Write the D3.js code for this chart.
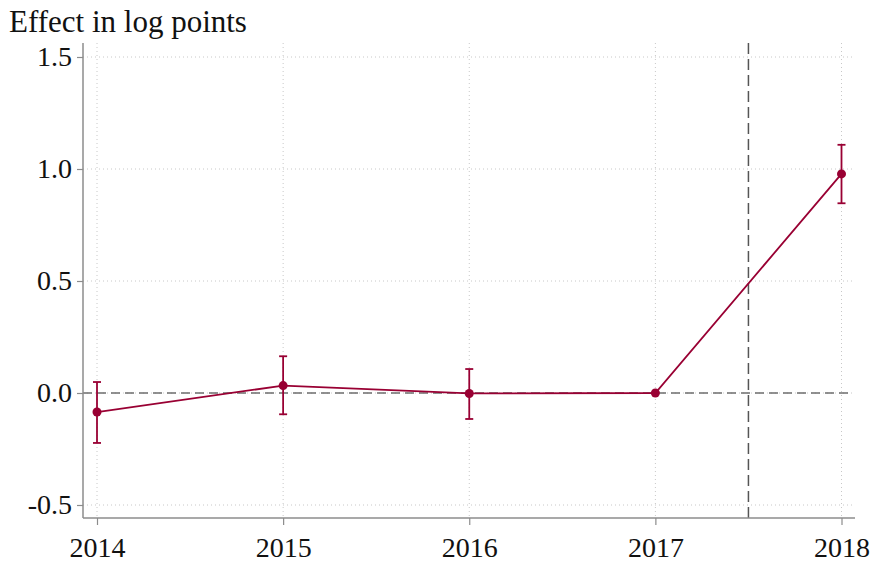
<!DOCTYPE html>
<html><head><meta charset="utf-8">
<script src="https://cdn.jsdelivr.net/npm/d3@7"></script>
<style>body{margin:0;background:#fff}svg{display:block}</style>
</head><body>
<svg id="c" width="873" height="570"></svg>
<script>
const years = [2014, 2015, 2016, 2017, 2018];
const estimates = [-0.085, 0.033, -0.002, 0.0, 0.978];
const ciLow = [-0.223, -0.095, -0.116, null, 0.847];
const ciHigh = [0.049, 0.164, 0.107, null, 1.108];
const yTicks = [-0.5, 0.0, 0.5, 1.0, 1.5];
const yTickLabels = ["-0.5", "0.0", "0.5", "1.0", "1.5"];
const xTickLabels = ["2014", "2015", "2016", "2017", "2018"];
const treatLine = 2017.5;
const title = "Effect in log points";

const svg = d3.select("#c");
const L = 83, R = 855, T = 43, B = 518;
const x = d3.scaleLinear().domain([2014, 2018]).range([97, 841.5]);
const y = d3.scaleLinear().domain([-0.5, 1.5]).range([505, 57]);
const col = "#990033";
const font = "'Liberation Serif', 'Times New Roman', serif";

// gridlines
svg.append("g").selectAll("line").data(yTicks).join("line")
  .attr("x1", L).attr("x2", R - 2).attr("y1", d => y(d)).attr("y2", d => y(d))
  .attr("stroke", "#c8c8c8").attr("stroke-width", 1).attr("stroke-dasharray", "1,3");
svg.append("g").selectAll("line").data(years).join("line")
  .attr("x1", d => x(d)).attr("x2", d => x(d)).attr("y1", T).attr("y2", B)
  .attr("stroke", "#c8c8c8").attr("stroke-width", 1).attr("stroke-dasharray", "1,3");

// zero line
svg.append("line").attr("x1", L).attr("x2", R - 2).attr("y1", y(0)).attr("y2", y(0))
  .attr("stroke", "#6e6e6e").attr("stroke-width", 1.5).attr("stroke-dasharray", "9,5");
// treatment line
svg.append("line").attr("x1", x(treatLine)).attr("x2", x(treatLine)).attr("y1", T).attr("y2", B)
  .attr("stroke", "#555").attr("stroke-width", 1.5).attr("stroke-dasharray", "11,5");

// axes
const yAxis = d3.axisLeft(y).tickValues(yTicks).tickFormat((d, i) => yTickLabels[i]).tickSize(6).tickPadding(5);
const gy = svg.append("g").attr("transform", `translate(${L},0)`).call(yAxis);
gy.select(".domain").remove();
gy.append("line").attr("x1", 0).attr("x2", 0).attr("y1", T).attr("y2", B).attr("stroke", "#8c8c8c").attr("stroke-width", 1.5);
gy.selectAll(".tick line").attr("stroke", "#8c8c8c").attr("stroke-width", 1.2);
gy.selectAll(".tick text").attr("font-family", font).attr("font-size", 28).attr("fill", "#111");

const xAxis = d3.axisBottom(x).tickValues(years).tickFormat((d, i) => xTickLabels[i]).tickSize(7).tickPadding(12);
const gx = svg.append("g").attr("transform", `translate(0,${B})`).call(xAxis);
gx.select(".domain").remove();
gx.append("line").attr("x1", L).attr("x2", R).attr("y1", 0).attr("y2", 0).attr("stroke", "#8c8c8c").attr("stroke-width", 1.5);
gx.selectAll(".tick line").attr("stroke", "#8c8c8c").attr("stroke-width", 1.2);
gx.selectAll(".tick text").attr("font-family", font).attr("font-size", 28).attr("fill", "#111");

// line
const pts = years.map((yr, i) => ({yr, v: estimates[i], lo: ciLow[i], hi: ciHigh[i]}));
svg.append("path").datum(pts)
  .attr("d", d3.line().x(d => x(d.yr)).y(d => y(d.v)))
  .attr("fill", "none").attr("stroke", col).attr("stroke-width", 1.8);

// error bars
const eb = svg.append("g").selectAll("g").data(pts.filter(d => d.lo !== null)).join("g")
  .attr("stroke", col).attr("stroke-width", 1.8);
eb.append("line").attr("x1", d => x(d.yr)).attr("x2", d => x(d.yr)).attr("y1", d => y(d.lo)).attr("y2", d => y(d.hi));
eb.append("line").attr("x1", d => x(d.yr) - 4).attr("x2", d => x(d.yr) + 4).attr("y1", d => y(d.lo)).attr("y2", d => y(d.lo));
eb.append("line").attr("x1", d => x(d.yr) - 4).attr("x2", d => x(d.yr) + 4).attr("y1", d => y(d.hi)).attr("y2", d => y(d.hi));

// markers
svg.append("g").selectAll("circle").data(pts).join("circle")
  .attr("cx", d => x(d.yr)).attr("cy", d => y(d.v)).attr("r", 4.5).attr("fill", col);

// title
svg.append("text").attr("x", 9).attr("y", 32).attr("font-family", font).attr("font-size", 31)
  .attr("fill", "#111").text(title);
</script>
</body></html>
